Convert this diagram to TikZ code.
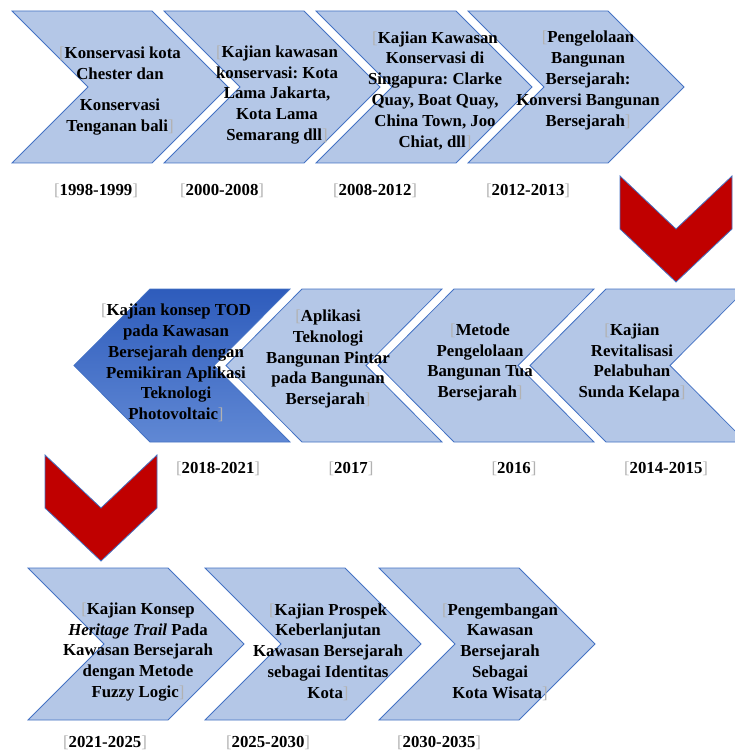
\documentclass[tikz,border=0pt]{standalone}
\usepackage{fontspec}
\setmainfont{Liberation Serif}
\frenchspacing
\definecolor{chevfill}{HTML}{B4C7E7}
\definecolor{chevline}{HTML}{4472C4}
\definecolor{redfill}{HTML}{C00000}
\definecolor{darktop}{RGB}{46,92,188}
\definecolor{darkbot}{RGB}{96,136,212}
\newcommand{\brkL}{{\color{black!30}\mdseries[}}
\newcommand{\brkR}{{\color{black!30}\mdseries]}}
% right-pointing chevron: #1 left x, #2 top y, #3 style
\newcommand{\chevRight}[3]{%
  \path[#3] (#1,#2) -- ({#1+140},#2) -- ({#1+216},{#2+76}) -- ({#1+140},{#2+152})
    -- (#1,{#2+152}) -- ({#1+76},{#2+76}) -- cycle;}
% left-pointing chevron: #1 top-left x, #2 top y, #3 style
\newcommand{\chevLeft}[3]{%
  \path[#3] (#1,#2) -- ({#1+140},#2) -- ({#1+64},{#2+76.5}) -- ({#1+140},{#2+153})
    -- (#1,{#2+153}) -- ({#1-76},{#2+76.5}) -- cycle;}
% down chevron: #1 left x, #2 top y
\newcommand{\chevDown}[2]{%
  \path[redchev] (#1,#2) -- ({#1+56},{#2+53}) -- ({#1+112},#2) -- ({#1+112},{#2+53})
    -- ({#1+56},{#2+106}) -- (#1,{#2+53}) -- cycle;}
\tikzset{
  chev/.style={fill=chevfill, draw=chevline, line width=0.8pt},
  darkchev/.style={top color=darktop, bottom color=darkbot, draw=chevline, line width=0.8pt},
  redchev/.style={fill=redfill, draw=chevline, line width=0.8pt},
  lab/.style={font=\fontsize{16.8}{20.8}\selectfont\bfseries\frenchspacing, align=center, inner sep=0pt, text=black},
  yr/.style={font=\fontsize{16.8}{20.8}\selectfont\bfseries, inner sep=0pt, text=black}
}
\begin{document}
\begin{tikzpicture}[x=1pt,y=-1pt]
\useasboundingbox (0,0) rectangle (735,754);
\clip (0,0) rectangle (735,754);
\fill[white] (0,0) rectangle (735,754);
% row 1
\chevRight{12}{11}{chev}
\chevRight{164}{11}{chev}
\chevRight{316}{11}{chev}
\chevRight{468}{11}{chev}
\node[lab] (t1a) at (120,63.5) {\brkL Konservasi kota\\Chester dan};
\node[lab] (t1b) at (120,117) {Konservasi\\Tenganan bali\brkR};
\node[lab] (t2) at (277,95) {\brkL Kajian kawasan\\konservasi: Kota\\Lama Jakarta,\\Kota Lama\\Semarang dll\brkR};
\node[lab] (t3) at (435,90.5) {\brkL Kajian Kawasan\\Konservasi di\\Singapura: Clarke\\Quay, Boat Quay,\\China Town, Joo\\Chiat, dll\brkR};
\node[lab] (t4) at (588,80.5) {\brkL Pengelolaan\\Bangunan\\Bersejarah:\\Konversi Bangunan\\Bersejarah\brkR};
\node[yr] (y1) at (96,191) {\brkL 1998-1999\brkR};
\node[yr] (y2) at (222,191) {\brkL 2000-2008\brkR};
\node[yr] (y3) at (375,191) {\brkL 2008-2012\brkR};
\node[yr] (y4) at (528,191) {\brkL 2012-2013\brkR};
% down arrow 1
\chevDown{620}{176}
% row 2
\chevLeft{150}{289}{darkchev}
\chevLeft{302}{289}{chev}
\chevLeft{454}{289}{chev}
\chevLeft{606}{289}{chev}
\node[lab] (t5) at (176,363) {\brkL Kajian konsep TOD\\pada Kawasan\\Bersejarah dengan\\Pemikiran Aplikasi\\Teknologi\\Photovoltaic\brkR};
\node[lab] (t6) at (328,359) {\brkL Aplikasi\\Teknologi\\Bangunan Pintar\\pada Bangunan\\Bersejarah\brkR};
\node[lab] (t7) at (480,362.5) {\brkL Metode\\Pengelolaan\\Bangunan Tua\\Bersejarah\brkR};
\node[lab] (t8) at (632,362.5) {\brkL Kajian\\Revitalisasi\\Pelabuhan\\Sunda Kelapa\brkR};
\node[yr] (y5) at (218,469) {\brkL 2018-2021\brkR};
\node[yr] (y6) at (351,469) {\brkL 2017\brkR};
\node[yr] (y7) at (514,469) {\brkL 2016\brkR};
\node[yr] (y8) at (666,469) {\brkL 2014-2015\brkR};
% down arrow 2
\chevDown{45}{455}
% row 3
\chevRight{28}{568}{chev}
\chevRight{205}{568}{chev}
\chevRight{379}{568}{chev}
\node[lab] (t9) at (138,652) {\brkL Kajian Konsep\\\textit{Heritage Trail} Pada\\Kawasan Bersejarah\\dengan Metode\\Fuzzy Logic\brkR};
\node[lab] (t10) at (328,652) {\brkL Kajian Prospek\\Keberlanjutan\\Kawasan Bersejarah\\sebagai Identitas\\Kota\brkR};
\node[lab] (t11) at (500,652) {\brkL Pengembangan\\Kawasan\\Bersejarah\\Sebagai\\Kota Wisata\brkR};
\node[yr] (y9) at (105,743) {\brkL 2021-2025\brkR};
\node[yr] (y10) at (268,743) {\brkL 2025-2030\brkR};
\node[yr] (y11) at (439,743) {\brkL 2030-2035\brkR};
\end{tikzpicture}
\end{document}
